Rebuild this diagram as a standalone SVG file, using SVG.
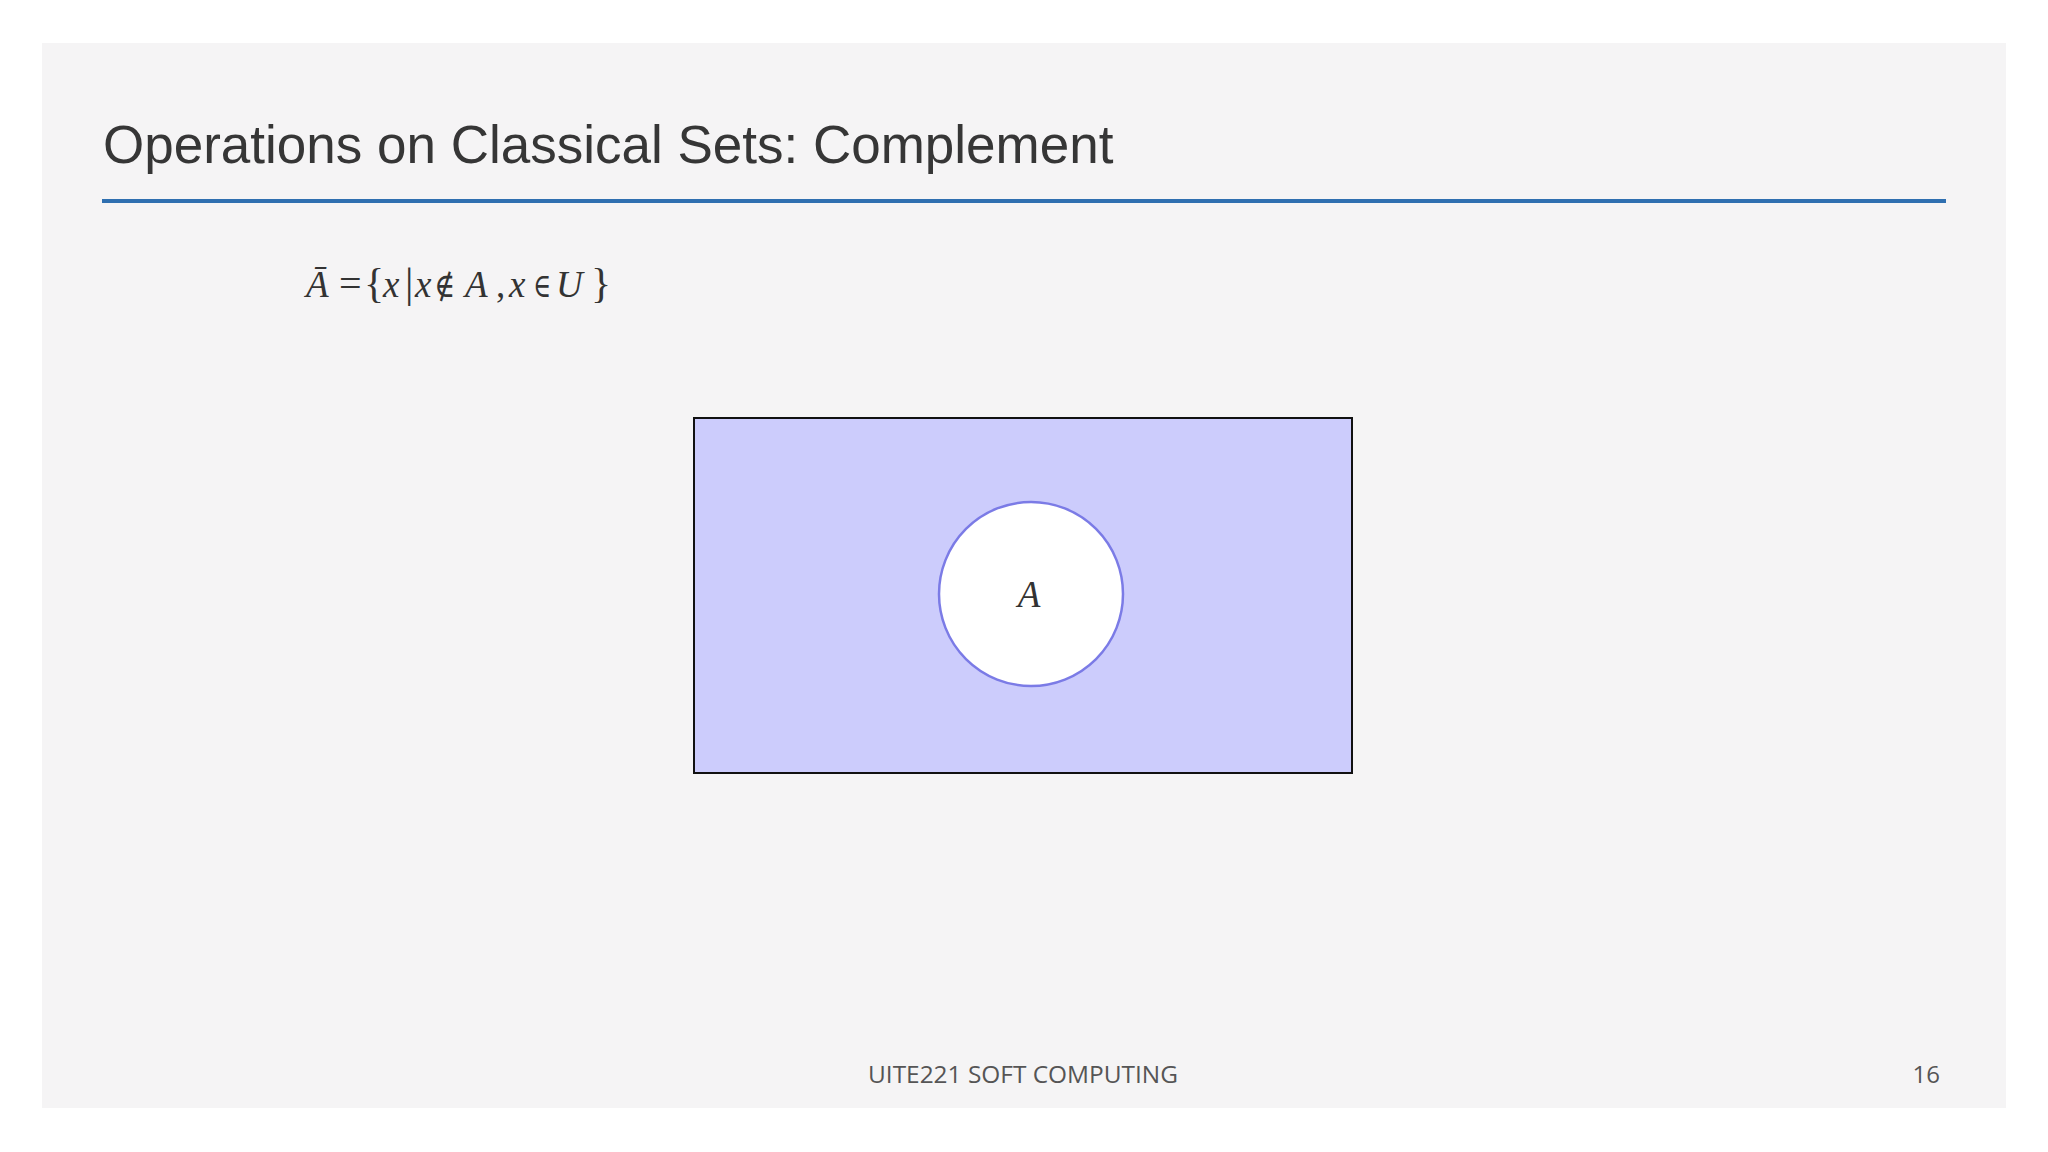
<svg xmlns="http://www.w3.org/2000/svg" width="2048" height="1152" viewBox="0 0 2048 1152">
<style>
.title{font-family:"Liberation Sans",Arial,sans-serif;font-size:53px;fill:#363636}
.math{font-family:"Liberation Serif","DejaVu Serif",serif;font-size:37px;fill:#333}
.sym{font-family:"DejaVu Serif","Liberation Serif",serif;font-size:34px;fill:#333}
.it{font-style:italic}
.foot{font-family:"Open Sans","Noto Sans",sans-serif;font-size:24px;fill:#555}
</style>
<rect x="0" y="0" width="2048" height="1152" fill="#ffffff"/>
<rect x="42" y="43" width="1964" height="1065" fill="#f5f4f5"/>
<g id="title">
<text class="title" x="103" y="163">Operations on Classical Sets: Complement</text>
<line x1="102" y1="201" x2="1946" y2="201" stroke="#2f6fb0" stroke-width="4"/>
</g>
<g id="formula">
<text class="math" y="297"><tspan class="it" x="306">Ā</tspan><tspan x="339" font-size="40">=</tspan><tspan x="364" font-size="42">{</tspan><tspan class="it" x="383">x</tspan><tspan x="405" font-size="42">|</tspan><tspan class="it" x="415">x</tspan></text>
<text class="sym" x="434" y="297" textLength="21" lengthAdjust="spacingAndGlyphs">∉</text>
<text class="math" y="297"><tspan class="it" x="465">A</tspan><tspan x="496">,</tspan><tspan class="it" x="509">x</tspan></text>
<text class="sym" x="533" y="297" textLength="18" lengthAdjust="spacingAndGlyphs">∈</text>
<text class="math" y="297"><tspan class="it" x="556">U</tspan><tspan x="591" font-size="42">}</tspan></text>
</g>
<g id="universe">
<rect x="694" y="418" width="658" height="355" fill="#ccccfc" stroke="#111" stroke-width="2"/>
</g>
<g id="setA">
<circle cx="1031" cy="594" r="92" fill="#ffffff" stroke="#7b7be6" stroke-width="2.5"/>
<text class="math it" x="1029" y="607" text-anchor="middle" font-size="36" fill="#111">A</text>
</g>
<g id="footer">
<text class="foot" x="868" y="1083" textLength="310" lengthAdjust="spacingAndGlyphs">UITE221 SOFT COMPUTING</text>
<text class="foot" x="1940" y="1083" text-anchor="end">16</text>
</g>
</svg>
